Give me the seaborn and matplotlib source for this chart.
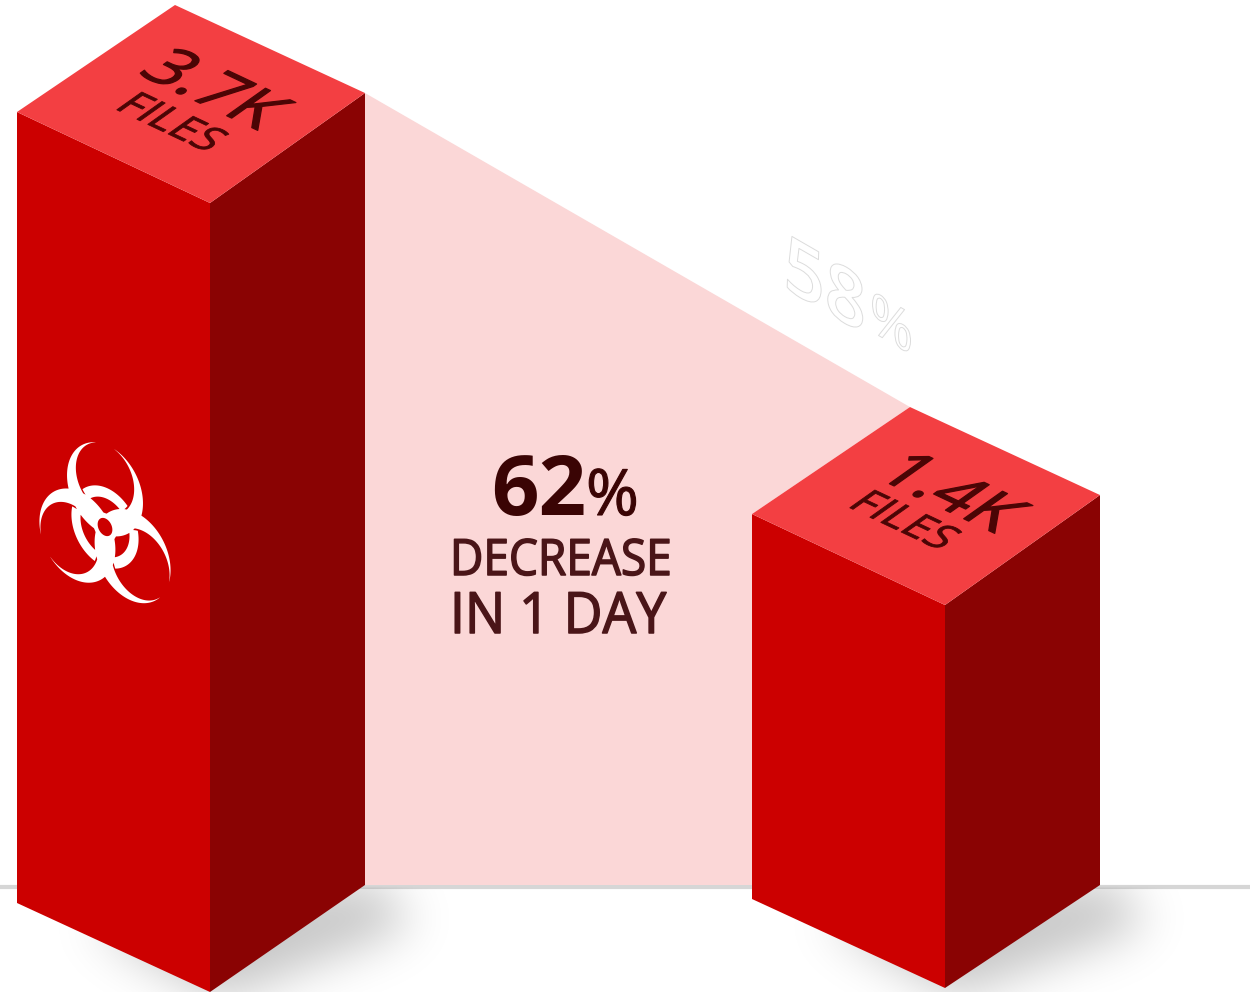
import numpy as np
import pandas as pd
import matplotlib
matplotlib.use("Agg")
import matplotlib.pyplot as plt
from matplotlib.patches import Polygon
from matplotlib.path import Path
from matplotlib.patheffects import AbstractPathEffect
from matplotlib.transforms import Affine2D
import seaborn as sns

# Values
bar_names = ["before", "after"]
file_counts = [3.7, 1.4]          # thousands of files
count_labels = ["3.7K", "1.4K"]
unit_label = "FILES"
decrease_number = "62"
percent_sign = "%"
decrease_lines = ["DECREASE", "IN 1 DAY"]
ghost_number = "58"

# Colours
FRONT = "#cc0000"
SIDE = "#8a0303"
TOP = "#f33f42"
BAND = "#fbd7d7"
INK_TOP = "#4b0505"
INK_MAIN = "#3a0404"
INK_SUB = "#4a1518"
GROUND = "#d6d6d6"

# Layout, in pixels of the 1256x992 canvas
W, H = 1256, 992
PX_PER_K = 174.8                  # vertical pixels per thousand files
TOP_PIXEL_REF = 93                # pixel row of the 3.7K rear-right corner
BASE_PIXEL = 885
GROUND_END = 1250
bar_left = [17, 752]
FACE_W = 193
SIDE_W = 155
TOP_OFF = dict(left=19, front=110, back=(-190, -88))
BOTTOM_OFF = [dict(left=18, front=107), dict(left=14, front=103)]

y_top = 3.7 + TOP_PIXEL_REF / PX_PER_K
y_bottom = y_top - H / PX_PER_K
base_value = y_top - BASE_PIXEL / PX_PER_K


def dy(pixels):
    return pixels / PX_PER_K


def val_from_px(p):
    return y_top - p / PX_PER_K


class Warp(AbstractPathEffect):
    """Applies a linear map to glyph outlines about the text origin."""

    def __init__(self, xdir, ydir, edge=None, edge_width=0.0):
        super().__init__()
        self.m = np.array([[xdir[0], ydir[0], 0], [xdir[1], ydir[1], 0], [0, 0, 1.0]])
        self.edge = edge
        self.edge_width = edge_width

    def draw_path(self, renderer, gc, tpath, affine, rgbFace=None):
        ox, oy = affine.transform((0, 0))
        warped = (affine + Affine2D().translate(-ox, -oy)
                  + Affine2D(self.m) + Affine2D().translate(ox, oy))
        gc2 = renderer.new_gc()
        gc2.copy_properties(gc)
        if self.edge is not None:
            gc2.set_foreground(self.edge)
            gc2.set_linewidth(self.edge_width)
        renderer.draw_path(gc2, tpath, warped, rgbFace)
        gc2.restore()


def unit(x, y, k=1.0):
    n = np.hypot(x, y)
    return (k * x / n, k * y / n)


sns.set_theme(style="white")
plt.rcParams["font.family"] = ["Open Sans", "DejaVu Sans"]

fig = plt.figure(figsize=(W / 100, H / 100), dpi=100)
ax = fig.add_axes([0, 0, 1, 1])

# The bars come from seaborn; their rectangles are then turned into box faces.
centres = [x + FACE_W / 2 for x in bar_left]
frame = pd.DataFrame({"pos": centres, "files": file_counts, "name": bar_names})
sns.barplot(data=frame, x="pos", y="files", native_scale=True,
            width=FACE_W / (centres[1] - centres[0]), color=FRONT, ax=ax,
            errorbar=None, saturation=1)
rects = list(ax.patches)
boxes = []
for rect, bottoms in zip(rects, BOTTOM_OFF):
    x0, w, v = rect.get_x(), rect.get_width(), rect.get_height()
    rect.remove()
    xf, xr = x0 + w, x0 + w + SIDE_W
    boxes.append(dict(
        fl=(x0, v - dy(TOP_OFF["left"])), ff=(xf, v - dy(TOP_OFF["front"])),
        fr=(xr, v), bk=(xr + TOP_OFF["back"][0], v - dy(TOP_OFF["back"][1])),
        bl=(x0, base_value - dy(bottoms["left"])),
        bf=(xf, base_value - dy(bottoms["front"])),
        br=(xr, base_value),
    ))

# Ground line
ax.hlines(val_from_px(887), 0, GROUND_END, color=GROUND, lw=3.0, zorder=1)

# Band joining the two bar tops
a, b = boxes
ax.add_patch(Polygon([a["fr"], b["bk"], b["fl"], (b["fl"][0], val_from_px(885)), a["br"]],
                     closed=True, fc=BAND, ec="none", zorder=2))

# Soft floor shadows
gx, gy = np.meshgrid(np.arange(0, W, 4) + 2, np.arange(0, H + 160, 4) + 2)
pts = np.column_stack([gx.ravel(), gy.ravel()])
kernel = np.exp(-0.5 * (np.arange(-30, 31) / 6.0) ** 2)
kernel /= kernel.sum()
shade = np.zeros(gx.shape)
for box in boxes:
    def to_px(pt):
        return (pt[0], (y_top - pt[1]) * PX_PER_K)
    lb, fb, rb = to_px(box["bl"]), to_px(box["bf"]), to_px(box["br"])
    poly = Path([(lb[0] + 70, lb[1] + 22), (fb[0] + 10, fb[1] + 8), (rb[0] + 48, rb[1] + 40),
                 (rb[0] + 10, rb[1] - 5), (lb[0] + 70, lb[1] + 22)])
    m = poly.contains_points(pts).reshape(gx.shape).astype(float)
    m = np.apply_along_axis(lambda r: np.convolve(r, kernel, mode="same"), 0, m)
    m = np.apply_along_axis(lambda r: np.convolve(r, kernel, mode="same"), 1, m)
    shade = np.maximum(shade, m)
shade[gy < 887] = 0
rgba = np.zeros(gx.shape + (4,))
rgba[..., 3] = np.clip(shade * 0.23, 0, 1)
ax.imshow(rgba, extent=(0, W, val_from_px(H + 160), y_top), aspect="auto",
          interpolation="bilinear", zorder=3)

# Box faces
for box in boxes:
    ax.add_patch(Polygon([box["fl"], box["ff"], box["bf"], box["bl"]], fc=FRONT, ec="none", zorder=4))
    ax.add_patch(Polygon([box["ff"], box["fr"], box["br"], box["bf"]], fc=SIDE, ec="none", zorder=4))
    ax.add_patch(Polygon([box["fl"], box["bk"], box["fr"], box["ff"]], fc=TOP, ec="none", zorder=4))

# Biohazard emblem on the tall bar's front face, built from circles on a fine grid
u = np.linspace(-34, 34, 1000)
ux, uy = np.meshgrid(u, u)


def disc(cx, cy, r):
    return r - np.hypot(ux - cx, uy - cy)


horns = None
ring_parts = None
radius = np.hypot(ux, uy)
annulus = np.minimum(radius - 10.0, 13.7 - radius)
for ang in np.radians([90, 210, 330]):
    c, s = np.cos(ang), np.sin(ang)
    crescent = np.minimum(disc(13.0 * c, 13.0 * s, 15.5), -disc(16.7 * c, 16.7 * s, 11.9))
    arc = np.minimum(annulus, disc(16.7 * c, 16.7 * s, 11.3))
    horns = crescent if horns is None else np.maximum(horns, crescent)
    ring_parts = arc if ring_parts is None else np.maximum(ring_parts, arc)
emblem = np.minimum(np.maximum(horns, ring_parts), radius - 3.0)
ICON_CX, ICON_CY = 105, 527
icon_px_x = ICON_CX + 2.45 * ux
icon_px_y = ICON_CY + 0.91 * ux - 2.9 * uy
ax.contourf(icon_px_x, val_from_px(icon_px_y), emblem, levels=[0, 100],
            colors=["white"], zorder=5, antialiased=True)

# Labels lying on the top faces
count_warp = Warp(unit(193, -91), unit(155, 110, 1.0), edge=INK_TOP, edge_width=0.9)
unit_warp = Warp(unit(193, -91), unit(155, 110, 1.0), edge=INK_TOP, edge_width=0.6)
count_origin = [(136, 73), (873, 476)]
unit_origin = [(113, 108), (846, 506)]
for label, co, uo in zip(count_labels, count_origin, unit_origin):
    ax.text(co[0], val_from_px(co[1]), label, fontsize=48, color=INK_TOP, ha="left",
            va="baseline", zorder=6, path_effects=[count_warp])
    ax.text(uo[0], val_from_px(uo[1]), unit_label, fontsize=31, color=INK_TOP, ha="left",
            va="baseline", zorder=6, path_effects=[unit_warp])

# Central callout
ax.text(491, val_from_px(515), decrease_number, fontsize=60, fontweight="bold", color=INK_MAIN,
        ha="left", va="baseline", zorder=6)
percent_weight = Warp((1, 0), (0, 1), edge=INK_MAIN, edge_width=0.8)
ax.text(586, val_from_px(515), percent_sign, fontsize=46, color=INK_MAIN,
        ha="left", va="baseline", zorder=6, path_effects=[percent_weight])
line_one = Warp((0.92, 0), (0, 1), edge=INK_SUB, edge_width=1.1)
line_two = Warp((0.94, 0), (0, 1), edge=INK_SUB, edge_width=1.1)
ax.text(450, val_from_px(575), decrease_lines[0], fontsize=36, color=INK_SUB, ha="left",
        va="baseline", zorder=6, path_effects=[line_one])
ax.text(450, val_from_px(633), decrease_lines[1], fontsize=41, color=INK_SUB, ha="left",
        va="baseline", zorder=6, path_effects=[line_two])

# Faint outlined figure above the band
ghost = Warp(unit(0.866, -0.5), (0.03, 0.92), edge="#dcdcdc", edge_width=0.7)
ax.text(783, val_from_px(287), ghost_number, fontsize=60, fontweight="semibold", color="white",
        ha="left", va="baseline", zorder=6, path_effects=[ghost])
ax.text(869, val_from_px(330), percent_sign, fontsize=44, color="white", ha="left",
        va="baseline", zorder=6, path_effects=[ghost])

ax.set_xlim(0, W)
ax.set_ylim(y_bottom, y_top)
ax.axis("off")
fig.savefig("out.png", dpi=100, facecolor="white")
